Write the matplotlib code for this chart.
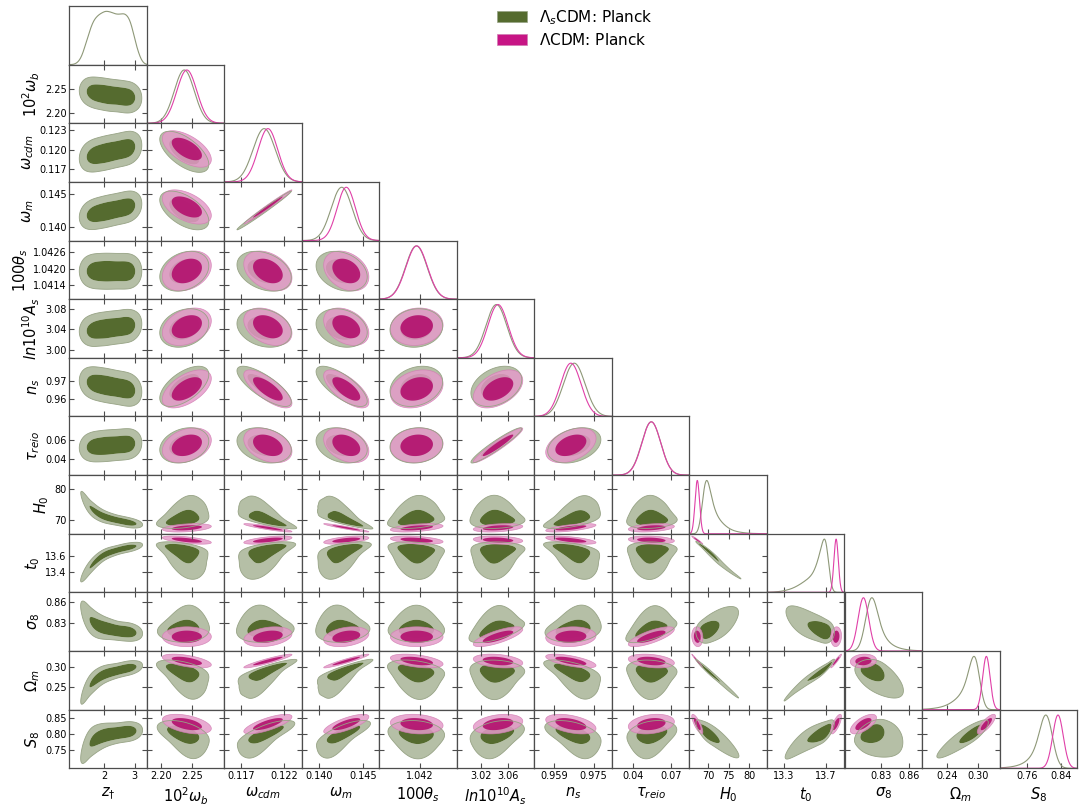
import numpy as np
import matplotlib
matplotlib.use("Agg")
import matplotlib.pyplot as plt
from matplotlib.patches import Patch, Polygon

plt.rcParams["font.family"] = ["DejaVu Sans"]
plt.rcParams["mathtext.fontset"] = "dejavusans"

# ---------------------------------------------------------------- parameters
param_labels = [r"$z_{\dagger}$", r"$10^2\omega_b$", r"$\omega_{cdm}$", r"$\omega_m$",
                r"$100\theta_s$", r"$ln10^{10}A_s$", r"$n_s$", r"$\tau_{reio}$",
                r"$H_0$", r"$t_0$", r"$\sigma_8$", r"$\Omega_m$", r"$S_8$"]

axis_limits = [(0.86, 3.39), (2.178, 2.302), (0.1151, 0.1240), (0.1380, 0.1469),
               (1.04087, 1.04303), (2.984, 3.099), (0.9508, 0.9825), (0.0235, 0.0845),
               (65.5, 84.3), (13.14, 13.88), (0.790, 0.874), (0.191, 0.341),
               (0.694, 0.877)]

xtick_values = [[2, 3], [2.20, 2.25], [0.117, 0.122], [0.140, 0.145], [1.042],
                [3.02, 3.06], [0.959, 0.975], [0.04, 0.07], [70, 75, 80],
                [13.3, 13.7], [0.83, 0.86], [0.24, 0.30], [0.76, 0.84]]
xtick_labels = [["2", "3"], ["2.20", "2.25"], ["0.117", "0.122"], ["0.140", "0.145"],
                ["1.042"], ["3.02", "3.06"], ["0.959", "0.975"], ["0.04", "0.07"],
                ["70", "75", "80"], ["13.3", "13.7"], ["0.83", "0.86"],
                ["0.24", "0.30"], ["0.76", "0.84"]]
ytick_values = [[], [2.20, 2.25], [0.117, 0.120, 0.123], [0.140, 0.145],
                [1.0414, 1.0420, 1.0426], [3.00, 3.04, 3.08], [0.96, 0.97],
                [0.04, 0.06], [70, 80], [13.4, 13.6], [0.83, 0.86], [0.25, 0.30],
                [0.75, 0.80, 0.85]]
ytick_labels = [[], ["2.20", "2.25"], ["0.117", "0.120", "0.123"], ["0.140", "0.145"],
                ["1.0414", "1.0420", "1.0426"], ["3.00", "3.04", "3.08"],
                ["0.96", "0.97"], ["0.04", "0.06"], ["70", "80"], ["13.4", "13.6"],
                ["0.83", "0.86"], ["0.25", "0.30"], ["0.75", "0.80", "0.85"]]

# ------------------------------------------------------- LCDM: Planck (Gaussian)
# order: wb, wcdm, wm, theta, As, ns, tau, H0, t0, sigma8, Om, S8
lcdm_mean = [2.242, 0.12010, 0.14310, 1.04191, 3.045, 0.9657, 0.0545,
             67.40, 13.800, 0.8105, 0.3155, 0.832]
lcdm_sigma = [0.0160, 0.00113, 0.00106, 0.00030, 0.0150, 0.0042, 0.0074,
              0.55, 0.021, 0.0058, 0.0072, 0.0125]
corr_wcdm = [-0.58]
corr_wm = [-0.50, 0.99]
corr_theta = [0.28, -0.35, -0.30]
corr_As = [0.32, -0.35, -0.35, 0.10]
corr_ns = [0.55, -0.75, -0.70, 0.25, 0.45]
corr_tau = [0.30, -0.35, -0.35, 0.10, 0.95, 0.40]
corr_H0 = [0.35, -0.90, -0.95, 0.45, 0.35, 0.65, 0.35]
corr_t0 = [-0.60, 0.60, 0.55, -0.40, -0.20, -0.60, -0.20, -0.97]
corr_s8 = [0.00, 0.30, 0.30, 0.00, 0.75, 0.10, 0.75, -0.10, 0.10]
corr_Om = [-0.55, 0.93, 0.95, -0.45, -0.30, -0.65, -0.30, -0.99, 0.96, 0.10]
corr_S8 = [-0.45, 0.75, 0.75, -0.15, 0.30, -0.45, 0.25, -0.80, 0.75, 0.65, 0.80]

# ------------------------------------------- LsCDM: Planck (slices in z_dagger)
zdag_nodes = [1.25, 1.45, 1.65, 1.85, 2.05, 2.25, 2.45, 2.65, 2.85, 3.05]
zdag_weights = [0.08, 0.48, 0.82, 0.90, 0.97, 0.93, 0.88, 0.93, 0.85, 0.30]
zdag_spread = 0.13
ls_wb = [2.246, 2.245, 2.243, 2.241, 2.239, 2.237, 2.236, 2.234, 2.233, 2.232]
ls_wcdm = [0.1187, 0.1189, 0.1191, 0.1193, 0.1195, 0.1197, 0.1199, 0.1201, 0.1203, 0.1205]
ls_wm = [0.1416, 0.1418, 0.1420, 0.1422, 0.1424, 0.1426, 0.1428, 0.1430, 0.1432, 0.1434]
ls_theta = [1.04190] * 10
ls_As = [3.036, 3.037, 3.038, 3.040, 3.041, 3.043, 3.044, 3.046, 3.047, 3.049]
ls_ns = [0.9700, 0.9694, 0.9688, 0.9682, 0.9676, 0.9670, 0.9664, 0.9658, 0.9652, 0.9646]
ls_tau = [0.0520, 0.0525, 0.0530, 0.0535, 0.0540, 0.0545, 0.0550, 0.0555, 0.0560, 0.0565]
ls_H0 = [79.0, 75.2, 73.2, 71.8, 70.9, 70.3, 69.8, 69.4, 69.0, 68.7]
ls_t0 = [13.29, 13.41, 13.50, 13.57, 13.62, 13.65, 13.675, 13.695, 13.71, 13.725]
ls_s8 = [0.856, 0.840, 0.831, 0.826, 0.823, 0.821, 0.819, 0.818, 0.817, 0.816]
ls_Om = [0.208, 0.243, 0.261, 0.274, 0.282, 0.287, 0.291, 0.295, 0.298, 0.301]
ls_S8 = [0.720, 0.760, 0.779, 0.790, 0.797, 0.801, 0.804, 0.807, 0.809, 0.811]
ls_resid_sigma = [0.0155, 0.00118, 0.00110, 0.00030, 0.0150, 0.0042, 0.0074,
                  0.70, 0.025, 0.0058, 0.0080, 0.0135]
# widening of the late-time (derived) parameters inside each z_dagger slice
ls_derived_widen = [2.2, 1.9, 1.6, 1.4, 1.2, 1.08, 1.0, 1.0, 1.0, 1.0]

legend_labels = [r"$\Lambda_s$CDM: Planck", r"$\Lambda$CDM: Planck"]

# ------------------------------------------------------------------- colours
G_OUT, G_IN, G_EDGE, G_LINE = "#b5bfa6", "#556b2f", "#97a385", "#8e9878"
P_OUT, P_IN, P_EDGE, P_LINE = "#e49bc9", "#b3136f", "#d27db3", "#e040a8"
SPINE = "#4d4d4d"

# ---------------------------------------------------------- derived structures
corr_rows = [corr_wcdm, corr_wm, corr_theta, corr_As, corr_ns, corr_tau,
             corr_H0, corr_t0, corr_s8, corr_Om, corr_S8]
n_cosmo = len(lcdm_mean)
corr = np.eye(n_cosmo)
for r, row in enumerate(corr_rows, start=1):
    for c, v in enumerate(row):
        corr[r, c] = corr[c, r] = v
corr13 = np.eye(n_cosmo + 1)
corr13[1:, 1:] = corr

znodes = np.array(zdag_nodes)
W = np.array(zdag_weights) / np.sum(zdag_weights)
M = np.column_stack([znodes, ls_wb, ls_wcdm, ls_wm, ls_theta, ls_As, ls_ns, ls_tau,
                     ls_H0, ls_t0, ls_s8, ls_Om, ls_S8])
S = np.column_stack([np.ones_like(znodes)] +
                    [np.gradient(M[:, p], znodes) for p in range(1, M.shape[1])])
K = len(znodes)
R = np.zeros((K, M.shape[1]))
R[:, 1:] = np.array(ls_resid_sigma)[None, :]
R[:, 8:] *= np.array(ls_derived_widen)[:, None]


def slice_cov(k, a, b):
    return S[k, a] * S[k, b] * zdag_spread ** 2 + corr13[a, b] * R[k, a] * R[k, b]


def ls_density_2d(a, b, X, Y):
    D = np.zeros_like(X)
    for k in range(K):
        saa, sbb, sab = slice_cov(k, a, a), slice_cov(k, b, b), slice_cov(k, a, b)
        det = saa * sbb - sab ** 2
        dx, dy = X - M[k, a], Y - M[k, b]
        q = (sbb * dx * dx - 2 * sab * dx * dy + saa * dy * dy) / det
        D += W[k] * np.exp(-0.5 * q) / (2 * np.pi * np.sqrt(det))
    return D


def ls_density_1d(a, x):
    d = np.zeros_like(x)
    for k in range(K):
        v = slice_cov(k, a, a)
        d += W[k] * np.exp(-0.5 * (x - M[k, a]) ** 2 / v) / np.sqrt(v)
    return d


def hpd_levels(D, fracs=(0.95, 0.68)):
    flat = np.sort(D.ravel())[::-1]
    cum = np.cumsum(flat)
    cum /= cum[-1]
    return [flat[np.searchsorted(cum, f)] for f in fracs]


def lcdm_ellipse(a, b, frac):
    ia, ib = a - 1, b - 1
    sa, sb = lcdm_sigma[ia], lcdm_sigma[ib]
    C = np.array([[sa * sa, corr[ia, ib] * sa * sb], [corr[ia, ib] * sa * sb, sb * sb]])
    L = np.linalg.cholesky(C)
    t = np.linspace(0, 2 * np.pi, 240)
    r = np.sqrt(-2 * np.log(1 - frac))
    pts = (L @ np.vstack([np.cos(t), np.sin(t)])).T * r
    return pts + np.array([lcdm_mean[ia], lcdm_mean[ib]])


# ---------------------------------------------------------------- layout
fig = plt.figure(figsize=(10.8, 8.1), dpi=100)
n = len(param_labels)
left0, top0 = 69.3 / 1080, 6.0 / 810
pw, ph = 77.52 / 1080, 58.64 / 810
TICK_FS, LABEL_FS = 7, 10.5

for i in range(n):
    for j in range(i + 1):
        ax = fig.add_axes([left0 + j * pw, 1 - top0 - (i + 1) * ph, pw, ph])
        for sp in ax.spines.values():
            sp.set_color(SPINE)
            sp.set_linewidth(0.9)
        xlo, xhi = axis_limits[j]
        ax.set_xlim(xlo, xhi)
        ax.set_xticks(xtick_values[j])
        if i == n - 1:
            ax.set_xticklabels(xtick_labels[j])
            ax.set_xlabel(param_labels[j], fontsize=LABEL_FS, labelpad=3)
        else:
            ax.set_xticklabels([])

        if i == j:
            x = np.linspace(xlo, xhi, 600)
            d = ls_density_1d(j, x)
            ax.plot(x, d / d.max(), color=G_LINE, lw=0.8)
            if j >= 1:
                g = np.exp(-0.5 * ((x - lcdm_mean[j - 1]) / lcdm_sigma[j - 1]) ** 2)
                ax.plot(x, g, color=P_LINE, lw=0.8)
            ax.set_ylim(0, 1.1)
            ax.set_yticks([])
            ax.tick_params(axis="x", direction="in", length=3.5, width=0.8,
                           colors=SPINE, labelcolor="black", labelsize=TICK_FS, pad=2,
                           top=False, bottom=True)
            continue

        ylo, yhi = axis_limits[i]
        ax.set_ylim(ylo, yhi)
        ax.set_yticks(ytick_values[i])
        if j == 0:
            ax.set_yticklabels(ytick_labels[i])
            ax.set_ylabel(param_labels[i], fontsize=LABEL_FS, labelpad=2)
        else:
            ax.set_yticklabels([])
        ax.tick_params(direction="in", length=3.5, width=0.8, colors=SPINE,
                       labelcolor="black", labelsize=TICK_FS, pad=2,
                       top=True, right=True)

        # LsCDM filled contours
        wx, wy = xhi - xlo, yhi - ylo
        gx = np.linspace(xlo - 0.3 * wx, xhi + 0.3 * wx, 260)
        gy = np.linspace(ylo - 0.3 * wy, yhi + 0.3 * wy, 260)
        X, Y = np.meshgrid(gx, gy)
        D = ls_density_2d(j, i, X, Y)
        l95, l68 = hpd_levels(D)
        ax.contourf(X, Y, D, levels=[l95, l68, D.max() * 1.01],
                    colors=[G_OUT, G_IN], antialiased=True)
        ax.contour(X, Y, D, levels=[l95], colors=[G_EDGE], linewidths=0.6)

        # LCDM ellipses
        if j >= 1:
            ax.add_patch(Polygon(lcdm_ellipse(j, i, 0.95), closed=True, fc=P_OUT,
                                 ec=P_EDGE, lw=0.5, alpha=0.85))
            ax.add_patch(Polygon(lcdm_ellipse(j, i, 0.68), closed=True, fc=P_IN,
                                 ec="none", alpha=0.92))

handles = [Patch(facecolor=G_IN, edgecolor=G_EDGE, lw=0.5),
           Patch(facecolor="#c71585", edgecolor=P_EDGE, lw=0.5)]
fig.legend(handles, legend_labels, loc="upper left",
           bbox_to_anchor=(496.7 / 1080, 1 - 8.0 / 810), frameon=False,
           fontsize=11, handlelength=2.0, handleheight=0.7, handletextpad=0.8,
           labelspacing=0.35, borderpad=0.0, borderaxespad=0.0)

fig.savefig("out.png", dpi=100)
